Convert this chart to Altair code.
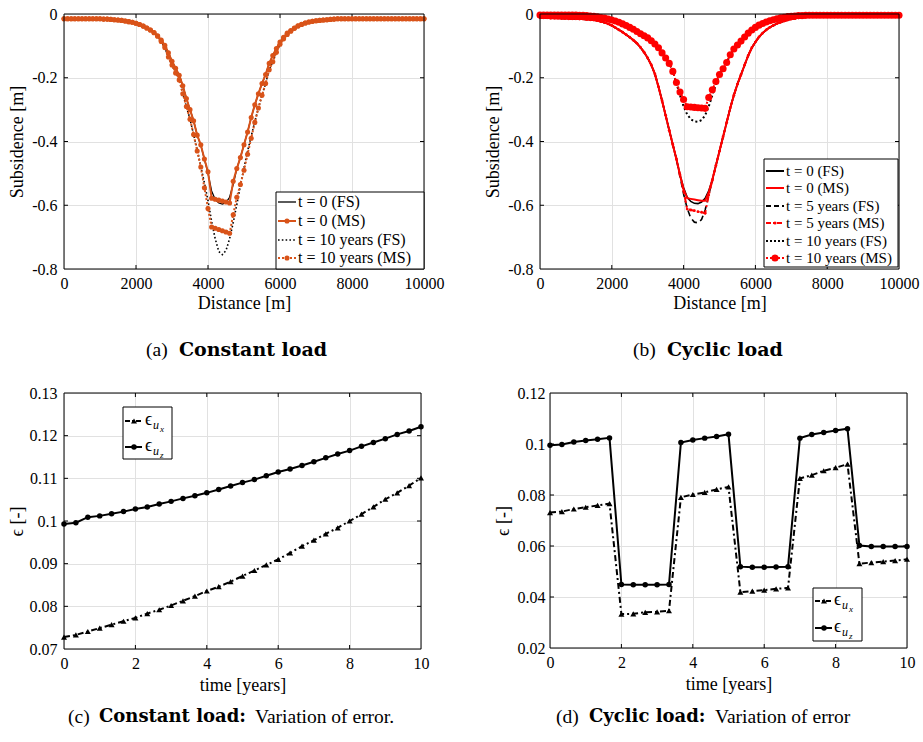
import altair as alt
import pandas as pd

SERIF = "Liberation Serif"
BOLDF = "DejaVu Serif"
ORANGE = "#D95319"
RED = "#FF0000"
GRID = "#E1E1E1"

# ---------------- data ----------------
distance_m = list(range(0, 10001, 100))

a_ms_t0 = [
    -0.015, -0.015, -0.015, -0.015, -0.015, -0.015, -0.015, -0.015, -0.015, -0.015,
    -0.015, -0.016, -0.016, -0.017, -0.018, -0.019, -0.020, -0.022, -0.024, -0.026,
    -0.029, -0.033, -0.038, -0.044, -0.050, -0.058, -0.068, -0.082, -0.098, -0.122,
    -0.148, -0.170, -0.192, -0.225, -0.265, -0.300, -0.335, -0.380, -0.410, -0.455,
    -0.495, -0.578, -0.581, -0.584, -0.587, -0.590, -0.593, -0.525, -0.485, -0.450,
    -0.410, -0.370, -0.325, -0.285, -0.250, -0.218, -0.190, -0.155, -0.130, -0.108,
    -0.088, -0.073, -0.060, -0.052, -0.044, -0.037, -0.032, -0.028, -0.025, -0.023,
    -0.021, -0.020, -0.019, -0.018, -0.017, -0.016, -0.015, -0.015, -0.015, -0.015,
    -0.015, -0.015, -0.015, -0.015, -0.015, -0.015, -0.015, -0.015, -0.015, -0.015,
    -0.015, -0.015, -0.015, -0.015, -0.015, -0.015, -0.015, -0.015, -0.015, -0.015,
    -0.015]

a_fs_t0 = [
    -0.015, -0.015, -0.015, -0.015, -0.015, -0.015, -0.015, -0.015, -0.015, -0.015,
    -0.015, -0.016, -0.016, -0.017, -0.018, -0.019, -0.020, -0.022, -0.024, -0.026,
    -0.029, -0.033, -0.038, -0.044, -0.050, -0.058, -0.068, -0.082, -0.098, -0.122,
    -0.148, -0.170, -0.192, -0.225, -0.265, -0.300, -0.335, -0.380, -0.412, -0.455,
    -0.500, -0.555, -0.582, -0.593, -0.596, -0.592, -0.575, -0.535, -0.485, -0.450,
    -0.410, -0.370, -0.325, -0.285, -0.250, -0.218, -0.190, -0.155, -0.130, -0.108,
    -0.088, -0.073, -0.060, -0.052, -0.044, -0.037, -0.032, -0.028, -0.025, -0.023,
    -0.021, -0.020, -0.019, -0.018, -0.017, -0.016, -0.015, -0.015, -0.015, -0.015,
    -0.015, -0.015, -0.015, -0.015, -0.015, -0.015, -0.015, -0.015, -0.015, -0.015,
    -0.015, -0.015, -0.015, -0.015, -0.015, -0.015, -0.015, -0.015, -0.015, -0.015,
    -0.015]

a_ms_t10 = [
    -0.015, -0.015, -0.015, -0.015, -0.015, -0.015, -0.015, -0.015, -0.015, -0.015,
    -0.015, -0.016, -0.016, -0.017, -0.018, -0.019, -0.020, -0.022, -0.024, -0.026,
    -0.029, -0.033, -0.038, -0.044, -0.050, -0.059, -0.070, -0.086, -0.105, -0.135,
    -0.160, -0.185, -0.207, -0.250, -0.290, -0.330, -0.378, -0.430, -0.480, -0.545,
    -0.610, -0.668, -0.672, -0.676, -0.680, -0.684, -0.688, -0.630, -0.575, -0.535,
    -0.490, -0.440, -0.390, -0.340, -0.295, -0.255, -0.218, -0.175, -0.150, -0.120,
    -0.095, -0.078, -0.064, -0.054, -0.045, -0.038, -0.033, -0.028, -0.025, -0.023,
    -0.021, -0.020, -0.019, -0.018, -0.017, -0.016, -0.015, -0.015, -0.015, -0.015,
    -0.015, -0.015, -0.015, -0.015, -0.015, -0.015, -0.015, -0.015, -0.015, -0.015,
    -0.015, -0.015, -0.015, -0.015, -0.015, -0.015, -0.015, -0.015, -0.015, -0.015,
    -0.015]

a_fs_t10 = [
    -0.015, -0.015, -0.015, -0.015, -0.015, -0.015, -0.015, -0.015, -0.015, -0.015,
    -0.015, -0.016, -0.016, -0.017, -0.018, -0.019, -0.020, -0.022, -0.024, -0.026,
    -0.029, -0.033, -0.038, -0.044, -0.050, -0.059, -0.070, -0.086, -0.105, -0.135,
    -0.160, -0.185, -0.207, -0.250, -0.290, -0.330, -0.378, -0.425, -0.478, -0.530,
    -0.585, -0.650, -0.705, -0.745, -0.755, -0.742, -0.705, -0.655, -0.598, -0.538,
    -0.482, -0.430, -0.383, -0.338, -0.295, -0.255, -0.218, -0.175, -0.150, -0.120,
    -0.095, -0.078, -0.064, -0.054, -0.045, -0.038, -0.033, -0.028, -0.025, -0.023,
    -0.021, -0.020, -0.019, -0.018, -0.017, -0.016, -0.015, -0.015, -0.015, -0.015,
    -0.015, -0.015, -0.015, -0.015, -0.015, -0.015, -0.015, -0.015, -0.015, -0.015,
    -0.015, -0.015, -0.015, -0.015, -0.015, -0.015, -0.015, -0.015, -0.015, -0.015,
    -0.015]

b_ms_t0 = [
    -0.012, -0.012, -0.012, -0.013, -0.013, -0.013, -0.014, -0.014, -0.015, -0.015,
    -0.015, -0.016, -0.016, -0.017, -0.018, -0.019, -0.021, -0.024, -0.027, -0.031,
    -0.036, -0.043, -0.050, -0.057, -0.065, -0.073, -0.082, -0.092, -0.105, -0.120,
    -0.138, -0.160, -0.188, -0.228, -0.272, -0.318, -0.365, -0.410, -0.455, -0.505,
    -0.550, -0.578, -0.580, -0.582, -0.584, -0.586, -0.586, -0.560, -0.520, -0.475,
    -0.430, -0.385, -0.340, -0.295, -0.255, -0.220, -0.190, -0.160, -0.130, -0.106,
    -0.088, -0.072, -0.060, -0.050, -0.042, -0.036, -0.030, -0.026, -0.022, -0.019,
    -0.016, -0.014, -0.012, -0.011, -0.010, -0.009, -0.008, -0.008, -0.007, -0.007,
    -0.006, -0.006, -0.006, -0.006, -0.006, -0.006, -0.006, -0.006, -0.006, -0.006,
    -0.006, -0.006, -0.006, -0.006, -0.006, -0.006, -0.006, -0.006, -0.006, -0.006,
    -0.006]

b_fs_t0 = [
    -0.012, -0.012, -0.012, -0.013, -0.013, -0.013, -0.014, -0.014, -0.015, -0.015,
    -0.015, -0.016, -0.016, -0.017, -0.018, -0.019, -0.021, -0.024, -0.027, -0.031,
    -0.036, -0.043, -0.050, -0.057, -0.065, -0.073, -0.082, -0.092, -0.105, -0.120,
    -0.138, -0.160, -0.188, -0.228, -0.272, -0.318, -0.365, -0.410, -0.455, -0.505,
    -0.545, -0.575, -0.588, -0.594, -0.595, -0.590, -0.578, -0.555, -0.520, -0.475,
    -0.430, -0.385, -0.340, -0.295, -0.255, -0.220, -0.190, -0.160, -0.130, -0.106,
    -0.088, -0.072, -0.060, -0.050, -0.042, -0.036, -0.030, -0.026, -0.022, -0.019,
    -0.016, -0.014, -0.012, -0.011, -0.010, -0.009, -0.008, -0.008, -0.007, -0.007,
    -0.006, -0.006, -0.006, -0.006, -0.006, -0.006, -0.006, -0.006, -0.006, -0.006,
    -0.006, -0.006, -0.006, -0.006, -0.006, -0.006, -0.006, -0.006, -0.006, -0.006,
    -0.006]

b_fs_t5 = [
    -0.012, -0.012, -0.012, -0.013, -0.013, -0.013, -0.014, -0.014, -0.015, -0.015,
    -0.015, -0.016, -0.016, -0.017, -0.018, -0.019, -0.021, -0.024, -0.027, -0.031,
    -0.036, -0.043, -0.050, -0.057, -0.065, -0.073, -0.082, -0.092, -0.105, -0.120,
    -0.138, -0.160, -0.188, -0.228, -0.272, -0.318, -0.365, -0.410, -0.455, -0.510,
    -0.565, -0.610, -0.640, -0.653, -0.655, -0.645, -0.615, -0.568, -0.522, -0.475,
    -0.430, -0.385, -0.340, -0.295, -0.255, -0.220, -0.190, -0.160, -0.130, -0.106,
    -0.088, -0.072, -0.060, -0.050, -0.042, -0.036, -0.030, -0.026, -0.022, -0.019,
    -0.016, -0.014, -0.012, -0.011, -0.010, -0.009, -0.008, -0.008, -0.007, -0.007,
    -0.006, -0.006, -0.006, -0.006, -0.006, -0.006, -0.006, -0.006, -0.006, -0.006,
    -0.006, -0.006, -0.006, -0.006, -0.006, -0.006, -0.006, -0.006, -0.006, -0.006,
    -0.006]

b_ms_t5 = [
    -0.012, -0.012, -0.012, -0.013, -0.013, -0.013, -0.014, -0.014, -0.015, -0.015,
    -0.015, -0.016, -0.016, -0.017, -0.018, -0.019, -0.021, -0.024, -0.027, -0.031,
    -0.036, -0.043, -0.050, -0.057, -0.065, -0.073, -0.082, -0.092, -0.105, -0.120,
    -0.138, -0.160, -0.188, -0.228, -0.272, -0.318, -0.365, -0.410, -0.455, -0.505,
    -0.555, -0.612, -0.615, -0.617, -0.620, -0.622, -0.625, -0.568, -0.522, -0.475,
    -0.430, -0.385, -0.340, -0.295, -0.255, -0.220, -0.190, -0.160, -0.130, -0.106,
    -0.088, -0.072, -0.060, -0.050, -0.042, -0.036, -0.030, -0.026, -0.022, -0.019,
    -0.016, -0.014, -0.012, -0.011, -0.010, -0.009, -0.008, -0.008, -0.007, -0.007,
    -0.006, -0.006, -0.006, -0.006, -0.006, -0.006, -0.006, -0.006, -0.006, -0.006,
    -0.006, -0.006, -0.006, -0.006, -0.006, -0.006, -0.006, -0.006, -0.006, -0.006,
    -0.006]

b_ms_t10 = [
    -0.003, -0.003, -0.003, -0.003, -0.003, -0.003, -0.003, -0.003, -0.003, -0.003,
    -0.003, -0.004, -0.004, -0.005, -0.006, -0.007, -0.009, -0.011, -0.013, -0.016,
    -0.019, -0.022, -0.026, -0.031, -0.036, -0.042, -0.048, -0.055, -0.062, -0.068,
    -0.075, -0.084, -0.094, -0.106, -0.122, -0.138, -0.155, -0.180, -0.215, -0.245,
    -0.268, -0.291, -0.292, -0.293, -0.294, -0.295, -0.296, -0.262, -0.238, -0.212,
    -0.190, -0.172, -0.152, -0.128, -0.110, -0.097, -0.085, -0.072, -0.060, -0.050,
    -0.042, -0.035, -0.030, -0.025, -0.021, -0.018, -0.015, -0.012, -0.010, -0.008,
    -0.007, -0.006, -0.005, -0.005, -0.004, -0.004, -0.004, -0.004, -0.004, -0.004,
    -0.004, -0.004, -0.004, -0.004, -0.004, -0.004, -0.004, -0.004, -0.004, -0.004,
    -0.004, -0.004, -0.004, -0.004, -0.004, -0.004, -0.004, -0.004, -0.004, -0.004,
    -0.004]

b_fs_t10 = [
    -0.003, -0.003, -0.003, -0.003, -0.003, -0.003, -0.003, -0.003, -0.003, -0.003,
    -0.003, -0.004, -0.004, -0.005, -0.006, -0.007, -0.009, -0.011, -0.013, -0.016,
    -0.019, -0.022, -0.026, -0.031, -0.036, -0.042, -0.048, -0.055, -0.062, -0.068,
    -0.075, -0.084, -0.094, -0.106, -0.122, -0.138, -0.155, -0.180, -0.218, -0.255,
    -0.290, -0.315, -0.330, -0.337, -0.338, -0.333, -0.318, -0.290, -0.255, -0.222,
    -0.190, -0.172, -0.152, -0.128, -0.110, -0.097, -0.085, -0.072, -0.060, -0.050,
    -0.042, -0.035, -0.030, -0.025, -0.021, -0.018, -0.015, -0.012, -0.010, -0.008,
    -0.007, -0.006, -0.005, -0.005, -0.004, -0.004, -0.004, -0.004, -0.004, -0.004,
    -0.004, -0.004, -0.004, -0.004, -0.004, -0.004, -0.004, -0.004, -0.004, -0.004,
    -0.004, -0.004, -0.004, -0.004, -0.004, -0.004, -0.004, -0.004, -0.004, -0.004,
    -0.004]

time_years = [0.0, 0.333, 0.667, 1.0, 1.333, 1.667, 2.0, 2.333, 2.667, 3.0, 3.333,
              3.667, 4.0, 4.333, 4.667, 5.0, 5.333, 5.667, 6.0, 6.333, 6.667,
              7.0, 7.333, 7.667, 8.0, 8.333, 8.667, 9.0, 9.333, 9.667, 10.0]

c_eps_uz = [0.0993, 0.0996, 0.1009, 0.1012, 0.1017, 0.1022, 0.1028, 0.1033, 0.1040, 0.1046,
            0.1053, 0.1059, 0.1066, 0.1074, 0.1082, 0.1090, 0.1097, 0.1106, 0.1115, 0.1122,
            0.1130, 0.1139, 0.1148, 0.1157, 0.1165, 0.1175, 0.1184, 0.1193, 0.1203, 0.1211,
            0.1221]
c_eps_ux = [0.0728, 0.0733, 0.0741, 0.0749, 0.0757, 0.0765, 0.0773, 0.0783, 0.0792, 0.0802,
            0.0813, 0.0824, 0.0836, 0.0846, 0.0858, 0.0871, 0.0884, 0.0897, 0.0910, 0.0925,
            0.0941, 0.0955, 0.0970, 0.0984, 0.1000, 0.1016, 0.1033, 0.1051, 0.1066, 0.1083,
            0.1101]

d_eps_uz = [0.0995, 0.0998, 0.1008, 0.1014, 0.1019, 0.1024, 0.0449, 0.0448, 0.0448, 0.0448,
            0.0449, 0.1006, 0.1016, 0.1023, 0.1029, 0.1038, 0.0519, 0.0517, 0.0517, 0.0518,
            0.0519, 0.1023, 0.1037, 0.1045, 0.1053, 0.1060, 0.0602, 0.0598, 0.0598, 0.0598,
            0.0598]
d_eps_ux = [0.0731, 0.0735, 0.0745, 0.0752, 0.0759, 0.0766, 0.0333, 0.0334, 0.0340, 0.0342,
            0.0346, 0.0791, 0.0802, 0.0810, 0.0822, 0.0832, 0.0419, 0.0423, 0.0427, 0.0432,
            0.0436, 0.0865, 0.0878, 0.0895, 0.0907, 0.0921, 0.0531, 0.0535, 0.0539, 0.0543,
            0.0548]

dist_ticks = [0, 2000, 4000, 6000, 8000, 10000]
subs_ticks = [0, -0.2, -0.4, -0.6, -0.8]
time_ticks = [0, 2, 4, 6, 8, 10]
c_eps_ticks = [0.07, 0.08, 0.09, 0.1, 0.11, 0.12, 0.13]
d_eps_ticks = [0.02, 0.04, 0.06, 0.08, 0.1, 0.12]

ONE = pd.DataFrame({"k": [0]})
SUBS_EXPR = "datum.value == 0 ? '0' : '-' + format(abs(datum.value), '.1f')"


# ---------------- helpers ----------------
def make_axis(title, values, fmt=None, expr=None, label_pad=7, title_pad=4):
    kw = dict(title=title, values=values, grid=True, gridColor=GRID, gridWidth=1,
              gridOpacity=1, domain=False, ticks=False, tickSize=0,
              labelPadding=label_pad, titlePadding=title_pad, labelFlush=False,
              labelOverlap=False, labelFont=SERIF, labelFontSize=16,
              labelColor="black", titleFont=SERIF, titleFontSize=18,
              titleFontWeight="normal", titleColor="black")
    if fmt is not None:
        kw["format"] = fmt
    if expr is not None:
        kw["labelExpr"] = expr
    return alt.Axis(**kw)


def enc_xy(xc, yc, xs, ys, xax=None, yax=None):
    if xax is not None:
        X = alt.X(f"{xc}:Q", scale=xs, axis=xax)
    else:
        X = alt.X(f"{xc}:Q", scale=xs)
    if yax is not None:
        Y = alt.Y(f"{yc}:Q", scale=ys, axis=yax)
    else:
        Y = alt.Y(f"{yc}:Q", scale=ys)
    return X, Y


def line(df, xc, yc, xs, ys, color, width=2, dash=None, xax=None, yax=None):
    kw = dict(color=color, strokeWidth=width)
    if dash is not None:
        kw["strokeDash"] = dash
    X, Y = enc_xy(xc, yc, xs, ys, xax, yax)
    return alt.Chart(df).mark_line(**kw).encode(x=X, y=Y)


def points(df, xc, yc, xs, ys, color, size=28, shape="circle"):
    X, Y = enc_xy(xc, yc, xs, ys)
    return alt.Chart(df).mark_point(filled=True, shape=shape, size=size, color=color,
                                    opacity=1, strokeWidth=0).encode(x=X, y=Y)


def inner_ticks(xvals, yvals, xs, ys, w, h, L=4):
    dx = pd.DataFrame({"tx": xvals})
    dy = pd.DataFrame({"ty": yvals})
    st = dict(color="black", strokeWidth=1)
    return [
        alt.Chart(dx).mark_rule(**st).encode(x=alt.X("tx:Q", scale=xs),
                                             y=alt.value(h), y2=alt.value(h - L)),
        alt.Chart(dx).mark_rule(**st).encode(x=alt.X("tx:Q", scale=xs),
                                             y=alt.value(0), y2=alt.value(L)),
        alt.Chart(dy).mark_rule(**st).encode(y=alt.Y("ty:Q", scale=ys),
                                             x=alt.value(0), x2=alt.value(L)),
        alt.Chart(dy).mark_rule(**st).encode(y=alt.Y("ty:Q", scale=ys),
                                             x=alt.value(w), x2=alt.value(w - L)),
    ]


def frame(w, h):
    return alt.Chart(ONE).mark_rect(fill="white", fillOpacity=0, stroke="black",
                                    strokeWidth=1).encode(
        x=alt.value(0), x2=alt.value(w), y=alt.value(0), y2=alt.value(h))


def box(x0, y0, x1, y1):
    return alt.Chart(ONE).mark_rect(fill="white", stroke="black", strokeWidth=1).encode(
        x=alt.value(x0), x2=alt.value(x1), y=alt.value(y0), y2=alt.value(y1))


def seg(x0, x1, y, color, width=2, dash=None):
    kw = dict(color=color, strokeWidth=width)
    if dash is not None:
        kw["strokeDash"] = dash
    return alt.Chart(ONE).mark_rule(**kw).encode(x=alt.value(x0), x2=alt.value(x1),
                                                 y=alt.value(y))


def dot(x, y, color, size=28, shape="circle"):
    return alt.Chart(ONE).mark_point(filled=True, shape=shape, size=size, color=color,
                                     opacity=1, strokeWidth=0).encode(
        x=alt.value(x), y=alt.value(y))


def txt(x, y, s, size=15, font=SERIF, weight="normal", style="normal"):
    return alt.Chart(ONE).mark_text(align="left", baseline="middle", font=font,
                                    fontSize=size, fontWeight=weight, fontStyle=style,
                                    color="black").encode(
        x=alt.value(x), y=alt.value(y), text=alt.value(s))


def eps_label(x, y, sub):
    return [txt(x, y, "ϵ", size=18),
            txt(x + 8, y + 5, "u", size=12, style="italic"),
            txt(x + 15, y + 9, sub, size=9, style="italic")]


# ---------------- panel (a) ----------------
WA, HA = 360, 255
df_a = pd.DataFrame({"d": distance_m, "fs0": a_fs_t0, "ms0": a_ms_t0,
                     "fs10": a_fs_t10, "ms10": a_ms_t10})
xs_a = alt.Scale(domain=[0, 10000], nice=False, zero=False)
ys_a = alt.Scale(domain=[-0.8, 0], nice=False, zero=False)
ax_xa = make_axis("Distance [m]", dist_ticks, fmt="d", label_pad=6, title_pad=3)
ax_ya = make_axis("Subsidence [m]", subs_ticks, expr=SUBS_EXPR, label_pad=7, title_pad=5)

layers_a = [line(df_a, "d", "fs0", xs_a, ys_a, "black", 1.3, xax=ax_xa, yax=ax_ya)]
layers_a += inner_ticks(dist_ticks[1:-1], subs_ticks[1:-1], xs_a, ys_a, WA, HA)
layers_a += [
    line(df_a, "d", "fs10", xs_a, ys_a, "black", 1.6, dash=[1.6, 2.2]),
    line(df_a, "d", "ms0", xs_a, ys_a, ORANGE, 2),
    points(df_a, "d", "ms0", xs_a, ys_a, ORANGE, 26),
    line(df_a, "d", "ms10", xs_a, ys_a, ORANGE, 2, dash=[2, 2]),
    points(df_a, "d", "ms10", xs_a, ys_a, ORANGE, 26),
    frame(WA, HA),
    box(212, 178, WA, HA),
    seg(214, 232, 188, "black", 1.3), txt(234, 188, "t = 0 (FS)", 16),
    seg(214, 232, 207, ORANGE, 2), dot(223, 207, ORANGE, 26), txt(234, 207, "t = 0 (MS)", 16),
    seg(214, 232, 226, "black", 1.6, [1.6, 2.2]), txt(234, 226, "t = 10 years (FS)", 16),
    seg(214, 232, 244, ORANGE, 2, [2, 2]), dot(223, 244, ORANGE, 26),
    txt(234, 244, "t = 10 years (MS)", 16),
    txt(82, 336, "(a)", 19.5),
    txt(115, 336, "Constant load", 19, font=BOLDF, weight="bold"),
]
panel_a = alt.layer(*layers_a).properties(width=WA, height=HA)

# ---------------- panel (b) ----------------
WB, HB = 359, 255
df_b = pd.DataFrame({"d": distance_m, "fs0": b_fs_t0, "ms0": b_ms_t0, "fs5": b_fs_t5,
                     "ms5": b_ms_t5, "fs10": b_fs_t10, "ms10": b_ms_t10})
xs_b = alt.Scale(domain=[0, 10000], nice=False, zero=False)
ys_b = alt.Scale(domain=[-0.8, 0], nice=False, zero=False)
ax_xb = make_axis("Distance [m]", dist_ticks, fmt="d", label_pad=6, title_pad=3)
ax_yb = make_axis("Subsidence [m]", subs_ticks, expr=SUBS_EXPR, label_pad=7, title_pad=5)
DASH = [6, 4]
DASHDOT = [6, 3, 2, 3]
DOT = [2, 2.5]

layers_b = [line(df_b, "d", "fs0", xs_b, ys_b, "black", 1.6, xax=ax_xb, yax=ax_yb)]
layers_b += inner_ticks(dist_ticks[1:-1], subs_ticks[1:-1], xs_b, ys_b, WB, HB)
layers_b += [
    line(df_b, "d", "fs5", xs_b, ys_b, "black", 1.6, dash=DASH),
    line(df_b, "d", "fs10", xs_b, ys_b, "black", 2, dash=DOT),
    line(df_b, "d", "ms0", xs_b, ys_b, RED, 2),
    line(df_b, "d", "ms5", xs_b, ys_b, RED, 2, dash=DASHDOT),
    points(df_b, "d", "ms5", xs_b, ys_b, RED, 8),
    line(df_b, "d", "ms10", xs_b, ys_b, RED, 2, dash=DOT),
    points(df_b, "d", "ms10", xs_b, ys_b, RED, 50),
    frame(WB, HB),
    box(224, 145, 358, 253),
    seg(226, 244, 157, "black", 2), txt(246, 157, "t = 0 (FS)", 15),
    seg(226, 244, 174, RED, 2), txt(246, 174, "t = 0 (MS)", 15),
    seg(226, 244, 192, "black", 2, [5, 3]), txt(246, 192, "t = 5 years (FS)", 15),
    seg(226, 244, 209, RED, 2, [5, 2, 2, 2]), dot(235, 209, RED, 10),
    txt(246, 209, "t = 5 years (MS)", 15),
    seg(226, 244, 227, "black", 2, [2, 2]), txt(246, 227, "t = 10 years (FS)", 15),
    seg(226, 244, 244, RED, 2, [2, 2]), dot(235, 244, RED, 50),
    txt(246, 244, "t = 10 years (MS)", 15),
    txt(93, 336, "(b)", 19.5),
    txt(127, 336, "Cyclic load", 19, font=BOLDF, weight="bold"),
]
panel_b = alt.layer(*layers_b).properties(width=WB, height=HB)

# ---------------- panel (c) ----------------
WC, HC = 357, 256
df_c = pd.DataFrame({"t": time_years, "ux": c_eps_ux, "uz": c_eps_uz})
xs_c = alt.Scale(domain=[0, 10], nice=False, zero=False)
ys_c = alt.Scale(domain=[0.07, 0.13], nice=False, zero=False)
ax_xc = make_axis("time [years]", time_ticks, fmt="d", label_pad=6, title_pad=5)
ax_yc = make_axis("ϵ [-]", c_eps_ticks, fmt=".2~f", label_pad=7, title_pad=3)

layers_c = [line(df_c, "t", "uz", xs_c, ys_c, "black", 2, xax=ax_xc, yax=ax_yc)]
layers_c += inner_ticks(time_ticks[1:-1], c_eps_ticks[1:-1], xs_c, ys_c, WC, HC)
layers_c += [
    points(df_c, "t", "uz", xs_c, ys_c, "black", 30),
    line(df_c, "t", "ux", xs_c, ys_c, "black", 2, dash=DASHDOT),
    points(df_c, "t", "ux", xs_c, ys_c, "black", 36, "triangle-up"),
    frame(WC, HC),
    box(59, 14, 108, 66),
    seg(61, 78, 28, "black", 2, [5, 2, 2, 2]), dot(70, 28, "black", 36, "triangle-up"),
    seg(61, 78, 54, "black", 2), dot(70, 54, "black", 30),
]
layers_c += eps_label(81, 27, "x") + eps_label(81, 53, "z")
layers_c += [
    txt(4, 324, "(c)", 19.5),
    txt(35, 324, "Constant load:", 18, font=BOLDF, weight="bold"),
    txt(191, 324, "Variation of error.", 19.5),
]
panel_c = alt.layer(*layers_c).properties(width=WC, height=HC)

# ---------------- panel (d) ----------------
WD, HD = 357, 255
df_d = pd.DataFrame({"t": time_years, "ux": d_eps_ux, "uz": d_eps_uz})
xs_d = alt.Scale(domain=[0, 10], nice=False, zero=False)
ys_d = alt.Scale(domain=[0.02, 0.12], nice=False, zero=False)
ax_xd = make_axis("time [years]", time_ticks, fmt="d", label_pad=6, title_pad=5)
ax_yd = make_axis("ϵ [-]", d_eps_ticks, fmt=".2~f", label_pad=5, title_pad=5)

layers_d = [line(df_d, "t", "uz", xs_d, ys_d, "black", 2, xax=ax_xd, yax=ax_yd)]
layers_d += inner_ticks(time_ticks[1:-1], d_eps_ticks[1:-1], xs_d, ys_d, WD, HD)
layers_d += [
    points(df_d, "t", "uz", xs_d, ys_d, "black", 30),
    line(df_d, "t", "ux", xs_d, ys_d, "black", 2, dash=DASHDOT),
    points(df_d, "t", "ux", xs_d, ys_d, "black", 36, "triangle-up"),
    frame(WD, HD),
    box(263, 195, 312, 248),
    seg(265, 282, 208, "black", 2, [5, 2, 2, 2]), dot(274, 208, "black", 36, "triangle-up"),
    seg(265, 282, 235, "black", 2), dot(274, 235, "black", 30),
]
layers_d += eps_label(284, 207, "x") + eps_label(284, 234, "z")
layers_d += [
    txt(6, 324, "(d)", 19.5),
    txt(39, 324, "Cyclic load:", 18, font=BOLDF, weight="bold"),
    txt(165, 324, "Variation of error", 19.5),
]
panel_d = alt.layer(*layers_d).properties(width=WD, height=HD)

row1 = alt.hconcat(panel_a, panel_b, spacing=116, bounds="flush")
row2 = alt.hconcat(panel_c, panel_d, spacing=129, bounds="flush")

chart = alt.vconcat(row1, row2, spacing=25).properties(
    padding={"left": 8, "top": 6, "right": 2, "bottom": 4},
    background="white",
).configure_view(strokeWidth=0).configure_axis(
    labelFont=SERIF, titleFont=SERIF
).configure_text(font=SERIF)

chart.save("out.html", embed_options={"renderer": "svg", "actions": False})
